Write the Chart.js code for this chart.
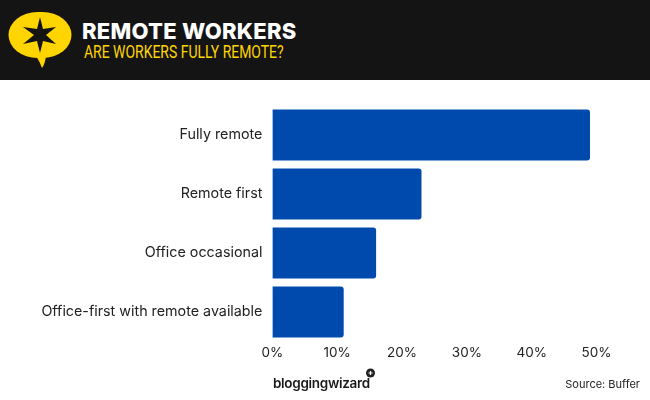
<!DOCTYPE html>
<html>
<head>
<meta charset="utf-8">
<style>
  html, body { margin: 0; padding: 0; background: #fff; }
  #wrap { position: relative; width: 650px; height: 400px; overflow: hidden; font-family: Inter, sans-serif; }
  #chart { position: absolute; left: 0; top: 0; }
  #header { position: absolute; left: 0; top: 0; width: 650px; height: 80px; background: #141414; }
  #logo { position: absolute; left: 0; top: 0; }
  #title { position: absolute; left: 82px; top: 18px; color: #fff; font: 800 22px Inter, sans-serif; letter-spacing: 0.25px; white-space: nowrap; line-height: 26px; }
  #subtitle { position: absolute; left: 84px; top: 42px; color: #ffd500; font: 400 18px Roboto, sans-serif; white-space: nowrap; line-height: 20px; transform: scaleX(0.775); transform-origin: left top; }
  #brand { position: absolute; left: 273px; top: 374px; color: #1a1a1a; font: 600 13.5px Inter, sans-serif; letter-spacing: -0.3px; white-space: nowrap; line-height: 18px; }
  #source { position: absolute; right: 10px; top: 377px; color: #222; font: 400 11px Inter, sans-serif; white-space: nowrap; line-height: 14px; }
</style>
</head>
<body>
<div id="wrap">
  <canvas id="chart" width="650" height="400"></canvas>
  <div id="header">
    <svg id="logo" width="80" height="80" viewBox="0 0 80 80">
      <rect x="8.5" y="12" width="63" height="46" rx="29" ry="23" fill="#ffd500"/>
      <path d="M36 56 L46 56 Q45 64 42 68 Q40 62 36 56 Z" fill="#ffd500"/>
      <path d="M40 17 L43 29 L56 27 L46 35 L56 44 L43 41 L40 53 L37 41 L23 44 L34 35 L23 27 L37 29 Z" fill="#141414"/>
    </svg>
    <div id="title">REMOTE WORKERS</div>
    <div id="subtitle">ARE WORKERS FULLY REMOTE?</div>
  </div>
  <div id="brand">bloggingwizard</div>
  <svg style="position:absolute;left:365px;top:368px" width="11" height="10"><circle cx="5.5" cy="5" r="4.5" fill="#222"/><path d="M3.5 5H7.5M5.5 3V7" stroke="#fff" stroke-width="1.2"/></svg>
  <div id="source">Source: Buffer</div>
</div>
<script src="https://cdn.jsdelivr.net/npm/chart.js@4"></script>
<script>
const categories = ['Fully remote', 'Remote first', 'Office occasional', 'Office-first with remote available'];
const shares = [49, 23, 16, 11];
const xTicks = [0, 10, 20, 30, 40, 50];

new Chart(document.getElementById('chart').getContext('2d'), {
    type: 'bar',
    data: {
        labels: categories,
        datasets: [{
            data: shares,
            backgroundColor: '#004aad',
            borderRadius: 3,
            borderSkipped: 'left',
            categoryPercentage: 1,
            barPercentage: 0.865
        }]
    },
    options: {
        indexAxis: 'y',
        responsive: false,
        animation: false,
        layout: { padding: { top: 105.5, right: 53.5 } },
        plugins: { legend: { display: false }, tooltip: { enabled: false } },
        scales: {
            x: {
                min: 0,
                max: 50,
                afterBuildTicks: axis => { axis.ticks = xTicks.map(v => ({ value: v })); },
                afterFit: axis => { axis.height = 58.5; },
                grid: { display: false, drawTicks: false },
                border: { display: false },
                ticks: { color: '#222', font: { family: 'Inter', size: 13.5 }, padding: 3, maxRotation: 0, callback: v => v + '%' }
            },
            y: {
                afterFit: axis => { axis.width = 272.4; },
                grid: { display: false, drawTicks: false },
                border: { display: false },
                ticks: { color: '#222', font: { family: 'Inter', size: 14.3 }, padding: 10 }
            }
        }
    }
});
</script>
</body>
</html>
